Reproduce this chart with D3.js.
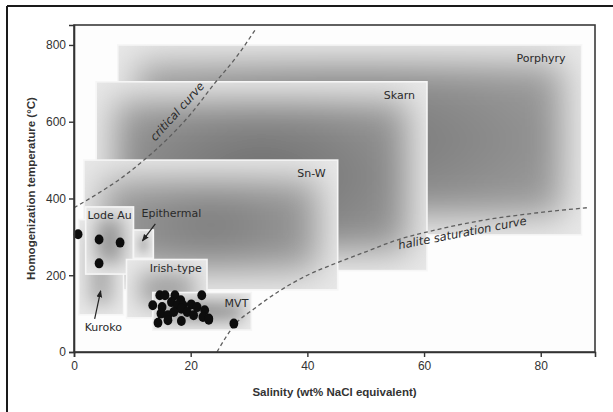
<!DOCTYPE html>
<html>
<head>
<meta charset="utf-8">
<script src="https://cdn.jsdelivr.net/npm/d3@7"></script>
<style>
  html, body { margin: 0; padding: 0; background: #fff; }
  svg { display: block; }
</style>
</head>
<body>
<svg id="chart" width="613" height="412"></svg>
<script>
// deposit type fields: salinity range (x0-x1) and temperature range (y0-y1)
const depositNames = ["Porphyry", "Skarn", "Sn-W", "Kuroko", "Lode Au", "Epithermal", "Irish-type", "MVT"];
const salinityMin  = [7.5, 3.8, 1.7, 0.8, 2.0, 10.2, 9.0, 13.5];
const salinityMax  = [87.0, 60.5, 45.2, 8.5, 10.2, 13.6, 22.8, 30.4];
const tempMin      = [305, 212, 162, 97, 203, 244, 89, 57];
const tempMax      = [800, 704, 500, 345, 378, 318, 241, 155];

// fluid inclusion measurements
const sampleSalinity = [0.7, 4.3, 7.9, 4.3,
  14.7, 15.6, 17.3, 18.3, 21.9, 13.5, 15.1, 16.7, 17.7, 18.7, 20.1, 21.1, 22.4,
  14.9, 16.1, 17.1, 18.4, 19.4, 20.5, 22.1, 23.1, 14.4, 16.1, 18.4, 23.1, 27.4];
const sampleTemp = [307, 293, 285, 231,
  148, 148, 148, 135, 148, 122, 117, 130, 122, 122, 124, 117, 109,
  100, 96, 104, 113, 104, 96, 91, 87, 76, 83, 81, 84, 74];

// curves
const criticalSalinity = [0, 4, 8, 12, 16, 20, 24, 28, 31];
const criticalTemp     = [376, 412, 452, 500, 555, 620, 698, 772, 838];
const haliteSalinity   = [24.5, 27.5, 31, 35, 40, 45, 50, 55, 62, 70, 78, 88];
const haliteTemp       = [0, 70, 114, 157, 200, 232, 261, 290, 318, 343, 360, 376];

const xTicks = [0, 20, 40, 60, 80];
const yTicks = [0, 200, 400, 600, 800];

const svg = d3.select("#chart");
const W = 613, H = 412;
const pLeft = 74, pRight = 595, pTop = 25, pBottom = 352;
const labelFont = "'DejaVu Sans', Verdana, sans-serif";
const axisFont = "'Liberation Sans', Arial, sans-serif";

const x = d3.scaleLinear().domain([0, 89.3]).range([pLeft, pRight]);
const y = d3.scaleLinear().domain([0, 852]).range([pBottom, pTop]);

// shading of each field: darkest centre tone, outer tone
const shade = {
  "Porphyry":   ["#747474", "#9c9c9c"],
  "Skarn":      ["#6c6c6c", "#979797"],
  "Sn-W":       ["#7a7a7a", "#a0a0a0"],
  "Kuroko":     ["#a8a8a8", "#b8b8b8"],
  "Lode Au":    ["#888888", "#a8a8a8"],
  "Epithermal": ["#a4a4a4", "#b4b4b4"],
  "Irish-type": ["#999999", "#afafaf"],
  "MVT":        ["#8a8a8a", "#a8a8a8"]
};

// outer figure border
svg.append("line").attr("x1", 7).attr("y1", 6).attr("x2", W).attr("y2", 6)
  .attr("stroke", "#1a1a1a").attr("stroke-width", 2);
svg.append("line").attr("x1", 7).attr("y1", 6).attr("x2", 7).attr("y2", H)
  .attr("stroke", "#1a1a1a").attr("stroke-width", 2);

const defs = svg.append("defs");

defs.append("clipPath").attr("id", "plotClip")
  .append("rect").attr("x", pLeft).attr("y", pTop)
  .attr("width", pRight - pLeft).attr("height", pBottom - pTop);

svg.append("rect").attr("x", pLeft).attr("y", pTop)
  .attr("width", pRight - pLeft).attr("height", pBottom - pTop)
  .attr("fill", "#fdfdfd");

const boxes = depositNames.map((name, i) => ({
  name: name,
  x0: salinityMin[i], x1: salinityMax[i],
  y0: tempMin[i], y1: tempMax[i]
}));

const plot = svg.append("g").attr("clip-path", "url(#plotClip)");

boxes.forEach((d, i) => {
  const bx = x(d.x0), by = y(d.y1);
  const bw = x(d.x1) - bx, bh = y(d.y0) - by;
  const sd = Math.min(17, 0.15 * Math.min(bw, bh) + 2);

  const g = defs.append("radialGradient").attr("id", "shade" + i)
    .attr("cx", "50%").attr("cy", "50%").attr("r", "60%");
  g.append("stop").attr("offset", "0%").attr("stop-color", shade[d.name][0]);
  g.append("stop").attr("offset", "100%").attr("stop-color", shade[d.name][1]);

  const f = defs.append("filter").attr("id", "blur" + i)
    .attr("filterUnits", "userSpaceOnUse")
    .attr("x", bx).attr("y", by).attr("width", bw).attr("height", bh);
  f.append("feGaussianBlur").attr("stdDeviation", sd);

  const grp = plot.append("g");
  grp.append("rect")
    .attr("x", bx).attr("y", by).attr("width", bw).attr("height", bh)
    .attr("fill", "#e8e8e8");
  grp.append("rect")
    .attr("x", bx + sd * 1.1).attr("y", by + sd * 1.1)
    .attr("width", Math.max(1, bw - sd * 2.2)).attr("height", Math.max(1, bh - sd * 2.2))
    .attr("fill", `url(#shade${i})`)
    .attr("filter", `url(#blur${i})`);
  grp.append("rect")
    .attr("x", bx).attr("y", by).attr("width", bw).attr("height", bh)
    .attr("fill", "none")
    .attr("stroke", "#f6f6f6")
    .attr("stroke-width", 1.6);
});

// label placement for each field, relative to its box (anchor, dx, dy in px)
const labelLayout = {
  "Porphyry":   { corner: "tr", dx: -16, dy: 17, anchor: "end" },
  "Skarn":      { corner: "tr", dx: -12, dy: 17, anchor: "end" },
  "Sn-W":       { corner: "tr", dx: -12, dy: 17, anchor: "end" },
  "Lode Au":    { corner: "tc", dx: 0,   dy: 12, anchor: "middle" },
  "Epithermal": { corner: "tl", dx: 8,   dy: -13, anchor: "start" },
  "Irish-type": { corner: "tc", dx: 9,   dy: 12, anchor: "middle" },
  "MVT":        { corner: "tr", dx: -3,  dy: 14, anchor: "end" },
  "Kuroko":     { corner: "bl", dx: 6,   dy: 16, anchor: "start" }
};

boxes.forEach(d => {
  const l = labelLayout[d.name];
  let px, py;
  if (l.corner === "tr") { px = x(d.x1); py = y(d.y1); }
  else if (l.corner === "tl") { px = x(d.x0); py = y(d.y1); }
  else if (l.corner === "tc") { px = (x(d.x0) + x(d.x1)) / 2; py = y(d.y1); }
  else { px = x(d.x0); py = y(d.y0); }
  svg.append("text")
    .attr("x", px + l.dx)
    .attr("y", py + l.dy)
    .attr("text-anchor", l.anchor)
    .attr("font-family", labelFont)
    .attr("font-size", "11px")
    .attr("fill", "#2a2a2a")
    .text(d.name);
});

// arrows
defs.append("marker").attr("id", "arrow")
  .attr("viewBox", "0 0 10 10").attr("refX", 9).attr("refY", 5)
  .attr("markerWidth", 6).attr("markerHeight", 6).attr("orient", "auto")
  .append("path").attr("d", "M0,1 L10,5 L0,9 z").attr("fill", "#222");

const epi = boxes.find(d => d.name === "Epithermal");
svg.append("line")
  .attr("x1", x(epi.x1) + 2).attr("y1", y(epi.y1) - 6)
  .attr("x2", (x(epi.x0) + x(epi.x1)) / 2 - 1).attr("y2", y(epi.y1) + 11)
  .attr("stroke", "#222").attr("stroke-width", 1.2)
  .attr("marker-end", "url(#arrow)");

const kur = boxes.find(d => d.name === "Kuroko");
svg.append("line")
  .attr("x1", x(kur.x0) + 16).attr("y1", y(kur.y0) + 4)
  .attr("x2", x(kur.x0) + 22).attr("y2", y(kur.y0) - 24)
  .attr("stroke", "#222").attr("stroke-width", 1.2)
  .attr("marker-end", "url(#arrow)");

// dashed curves
const line = d3.line().x(d => x(d[0])).y(d => y(d[1])).curve(d3.curveMonotoneX);
const critical = criticalSalinity.map((s, i) => [s, criticalTemp[i]]);
const halite = haliteSalinity.map((s, i) => [s, haliteTemp[i]]);

plot.append("path").datum(critical).attr("d", line)
  .attr("fill", "none").attr("stroke", "#5e5e5e").attr("stroke-width", 1.3)
  .attr("stroke-dasharray", "4,3");
plot.append("path").datum(halite).attr("d", line)
  .attr("fill", "none").attr("stroke", "#5e5e5e").attr("stroke-width", 1.3)
  .attr("stroke-dasharray", "4,3");

svg.append("text")
  .attr("transform", `translate(${x(18.2)},${y(620)}) rotate(-48)`)
  .attr("text-anchor", "middle")
  .attr("font-family", labelFont).attr("font-style", "italic")
  .attr("font-size", "11.5px").attr("fill", "#2a2a2a")
  .text("critical curve");

svg.append("text")
  .attr("transform", `translate(${x(66.7)},${y(300)}) rotate(-11)`)
  .attr("text-anchor", "middle")
  .attr("font-family", labelFont).attr("font-style", "italic")
  .attr("font-size", "11.5px").attr("fill", "#2a2a2a")
  .text("halite saturation curve");

// samples
const samples = sampleSalinity.map((s, i) => [s, sampleTemp[i]]);
svg.selectAll("ellipse.sample")
  .data(samples)
  .join("ellipse")
  .attr("class", "sample")
  .attr("cx", d => x(d[0]))
  .attr("cy", d => y(d[1]))
  .attr("rx", 4.4)
  .attr("ry", 5)
  .attr("fill", "#0d0d0d");

// frame
svg.append("rect").attr("x", pLeft).attr("y", pTop)
  .attr("width", pRight - pLeft).attr("height", pBottom - pTop)
  .attr("fill", "none").attr("stroke", "#3a3a3a").attr("stroke-width", 1.6);

// axes
const xAxis = svg.append("g").attr("transform", `translate(0,${pBottom})`)
  .call(d3.axisBottom(x).tickValues(xTicks).tickSize(5).tickPadding(4));
const yAxis = svg.append("g").attr("transform", `translate(${pLeft},0)`)
  .call(d3.axisLeft(y).tickValues(yTicks).tickSize(5).tickPadding(3));

[xAxis, yAxis].forEach(a => {
  a.select(".domain").attr("stroke", "#333").attr("stroke-width", 1.6);
  a.selectAll(".tick line").attr("stroke", "#333").attr("stroke-width", 1.4);
  a.selectAll(".tick text")
    .attr("font-family", axisFont)
    .attr("font-size", "12px")
    .attr("fill", "#333");
});

svg.append("text")
  .attr("x", (pLeft + pRight) / 2)
  .attr("y", 396)
  .attr("text-anchor", "middle")
  .attr("font-family", axisFont)
  .attr("font-weight", "bold")
  .attr("font-size", "11.5px")
  .attr("fill", "#333")
  .text("Salinity (wt% NaCl equivalent)");

svg.append("text")
  .attr("transform", `translate(35,${(pTop + pBottom) / 2}) rotate(-90)`)
  .attr("text-anchor", "middle")
  .attr("font-family", axisFont)
  .attr("font-weight", "bold")
  .attr("font-size", "11.5px")
  .attr("fill", "#333")
  .text("Homogenization temperature (°C)");
</script>
</body>
</html>
